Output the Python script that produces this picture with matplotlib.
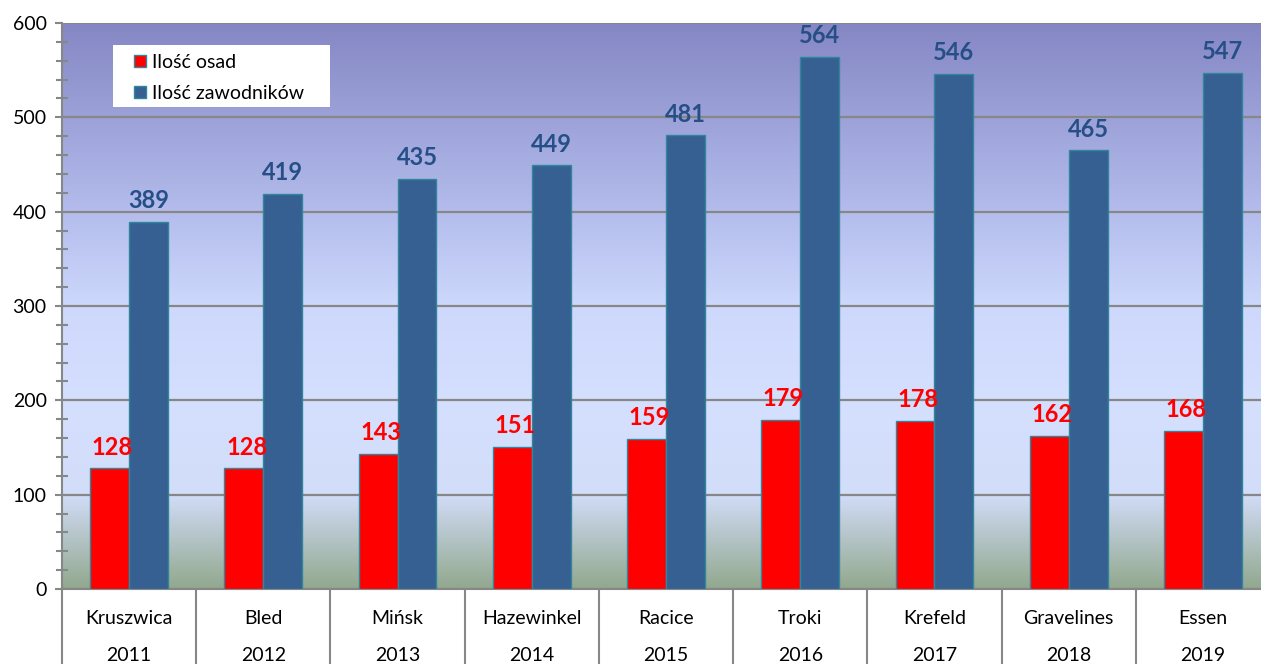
import numpy as np
import matplotlib
matplotlib.use('Agg')
import matplotlib.pyplot as plt
from matplotlib.colors import LinearSegmentedColormap
from matplotlib.patches import Rectangle

plt.rcParams['font.family'] = ['Lato', 'DejaVu Sans']

# dane
miejsca = ['Kruszwica', 'Bled', 'Mińsk', 'Hazewinkel', 'Racice',
           'Troki', 'Krefeld', 'Gravelines', 'Essen']
lata = ['2011', '2012', '2013', '2014', '2015', '2016', '2017', '2018', '2019']
osady = [128, 128, 143, 151, 159, 179, 178, 162, 168]
zawodnicy = [389, 419, 435, 449, 481, 564, 546, 465, 547]

fig = plt.figure(figsize=(12.61, 6.64), dpi=100)
ax = fig.add_axes([62 / 1261, 75 / 664, 1208 / 1261, 566 / 664])

# tlo z gradientem
grad = LinearSegmentedColormap.from_list('tlo', [
    (0.0, '#92a88e'), (0.167, '#d2ddf9'), (0.33, '#d5e0ff'),
    (0.5, '#cdd8fc'), (0.67, '#b3bcec'), (1.0, '#8587c4')])
ax.imshow(np.linspace(1, 0, 256).reshape(-1, 1), cmap=grad, aspect='auto',
          extent=[-0.5, len(miejsca) - 0.5, 0, 600], zorder=0)

x = np.arange(len(miejsca))
w = 0.29
b1 = ax.bar(x - w / 2, osady, w, color='#ff0000', edgecolor='#31859c', linewidth=1,
            label='Ilość osad', zorder=3)
b2 = ax.bar(x + w / 2, zawodnicy, w, color='#366092', edgecolor='#31859c', linewidth=1,
            label='Ilość zawodników', zorder=3)

for r, v in zip(b1, osady):
    ax.annotate(str(v), (r.get_x() + r.get_width() / 2 + 0.02, v), xytext=(0, 7),
                textcoords='offset points', ha='center', va='bottom',
                fontsize=17, fontweight='bold', color='#ff0000', zorder=4)
for r, v in zip(b2, zawodnicy):
    ax.annotate(str(v), (r.get_x() + r.get_width() / 2, v), xytext=(0, 7),
                textcoords='offset points', ha='center', va='bottom',
                fontsize=17, fontweight='bold', color='#254f86', zorder=4)

ax.set_xlim(-0.5, len(miejsca) - 0.5)
ax.set_ylim(0, 600)
ax.set_yticks(range(0, 601, 100))
ax.set_yticks(range(0, 601, 20), minor=True)
ax.yaxis.grid(True, color='#878787', linewidth=1.6, zorder=1)
ax.set_axisbelow(True)
ax.tick_params(axis='y', which='major', length=5, width=1.5, color='#878787',
               labelsize=14, pad=6)
ax.tick_params(axis='y', which='minor', length=9, width=1.5, color='#878787',
               direction='inout')

ax.set_xticks(x)
ax.set_xticklabels([f'{m}\n\n{r}' for m, r in zip(miejsca, lata)], fontsize=14,
                   linespacing=1.1)
ax.set_xticks(np.arange(-0.5, len(miejsca)), minor=True)
ax.tick_params(axis='x', which='major', length=0, pad=15)
ax.tick_params(axis='x', which='minor', length=80, width=1.5, color='#878787')

for s in ['top', 'right']:
    ax.spines[s].set_visible(False)
for s in ['left', 'bottom']:
    ax.spines[s].set_color('#878787')
    ax.spines[s].set_linewidth(1.5)

# biale pole legendy
ax.add_patch(Rectangle((51 / 1208, 1 - 84 / 566), 217 / 1208, 62 / 566,
                       transform=ax.transAxes, facecolor='white', edgecolor='none',
                       zorder=5))
leg = ax.legend(loc='upper left', bbox_to_anchor=(72 / 1208, 1 - 31 / 566),
                fontsize=14, frameon=False, handlelength=0.6, handleheight=0.6,
                handletextpad=0.3, borderpad=0, labelspacing=0.7,
                borderaxespad=0)
leg.set_zorder(6)

fig.savefig('out.png', dpi=100, facecolor='white')
